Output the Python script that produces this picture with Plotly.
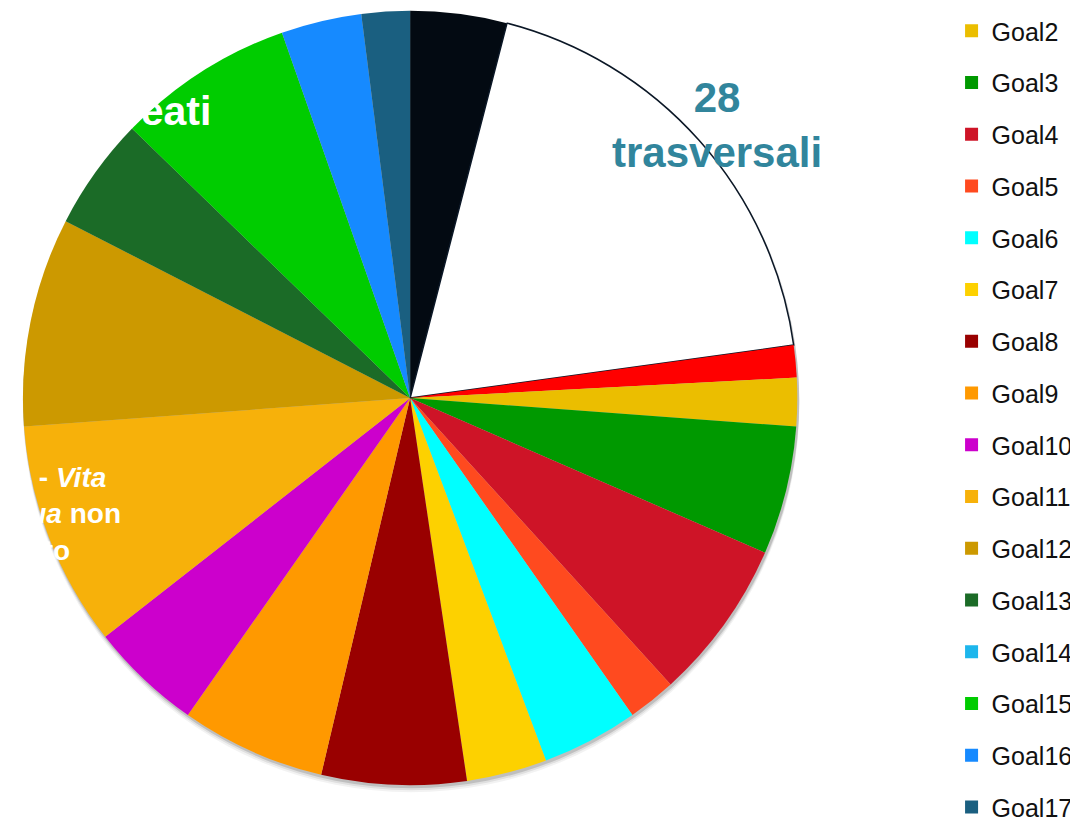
import plotly.graph_objects as go

# ---- data ----
slice_labels = ["Non assegnati", "Trasversali", "Goal1", "Goal2", "Goal3", "Goal4", "Goal5",
                "Goal6", "Goal7", "Goal8", "Goal9", "Goal10", "Goal11", "Goal12", "Goal13",
                "Goal14", "Goal15", "Goal16", "Goal17"]
slice_values = [6, 28, 2, 3, 8, 10, 3, 6, 5, 9, 9, 7, 14, 13, 7, 0, 11, 5, 3]
slice_colors = ["#030A12", "#FFFFFF", "#FF0000", "#EBBE00", "#009900", "#CE1427", "#FF4A1F",
                "#00FFFF", "#FDD100", "#990000", "#FF9900", "#CC00CC", "#F7B10A", "#CC9900",
                "#1B6B27", "#1DB6EC", "#00CC00", "#168AFF", "#1A5F80"]
legend_labels = ["Goal2", "Goal3", "Goal4", "Goal5", "Goal6", "Goal7", "Goal8", "Goal9",
                 "Goal10", "Goal11", "Goal12", "Goal13", "Goal14", "Goal15", "Goal16", "Goal17"]

# page has an 8px body margin, so the figure is 8px smaller than the window
OFF = 8
W, H = 1078 - OFF, 820 - OFF
cx, cy, R = 412 - OFF, 398 - OFF, 389


def px(x):
    return (x - OFF) / W


def py(y):
    return 1 - (y - OFF) / H


def dom(dx=0, dy=0, r=R):
    return dict(x=[(cx + dx - r) / W, (cx + dx + r) / W],
                y=[(H - cy - dy - r) / H, (H - cy - dy + r) / H])


fig = go.Figure()

# soft shadow
for k, (dx, dy, op) in enumerate([(1, 6, 0.05), (1, 4, 0.08), (1, 2, 0.14)]):
    fig.add_trace(go.Pie(values=[1], labels=["s%d" % k], marker=dict(colors=["rgba(0,0,0,%s)" % op]),
                         domain=dom(dx, dy, R + 1), textinfo="none", hoverinfo="skip",
                         showlegend=False, sort=False))

line_w = [1.5 if l == "Trasversali" else 0 for l in slice_labels]
fig.add_trace(go.Pie(
    labels=slice_labels, values=slice_values, sort=False, direction="clockwise", rotation=0,
    marker=dict(colors=slice_colors, line=dict(color="#0B1726", width=line_w)),
    domain=dom(), textinfo="none", showlegend=False,
))

for lab in legend_labels:
    col = slice_colors[slice_labels.index(lab)]
    fig.add_trace(go.Scatter(x=[None], y=[None], mode="markers", name=lab, legendgroup=lab,
                             marker=dict(symbol="square", size=13, color=col)))

fig.add_annotation(text="<b>28<br>trasversali</b>", xref="paper", yref="paper",
                   x=px(720), y=py(125), xanchor="center", yanchor="middle", showarrow=False,
                   font=dict(family="Liberation Sans, Arial", size=42, color="#31859C"))
fig.add_annotation(text="<b>creati</b>", xref="paper", yref="paper",
                   x=px(214), y=py(111), xanchor="right", yanchor="middle", showarrow=False,
                   font=dict(family="Liberation Sans, Arial", size=41, color="#FFFFFF"))
fig.add_annotation(text="<b>Goal14 - <i>Vita</i><br><i>sott'acqua</i> non<br>trattato</b>",
                   xref="paper", yref="paper", x=px(22), y=py(514), xanchor="center",
                   yanchor="middle", showarrow=False,
                   font=dict(family="Liberation Sans, Arial", size=28, color="#FFFFFF"))

fig.update_layout(
    width=W, height=H, margin=dict(l=0, r=0, t=0, b=0),
    paper_bgcolor="white", plot_bgcolor="white",
    xaxis=dict(visible=False), yaxis=dict(visible=False),
    legend=dict(x=px(956), y=1.0, xanchor="left", yanchor="top", tracegroupgap=16.25,
                maxheight=1000,
                font=dict(family="Liberation Sans, Arial", size=25, color="#111111"),
                bgcolor="rgba(0,0,0,0)"),
)
fig.write_html("out.html")
